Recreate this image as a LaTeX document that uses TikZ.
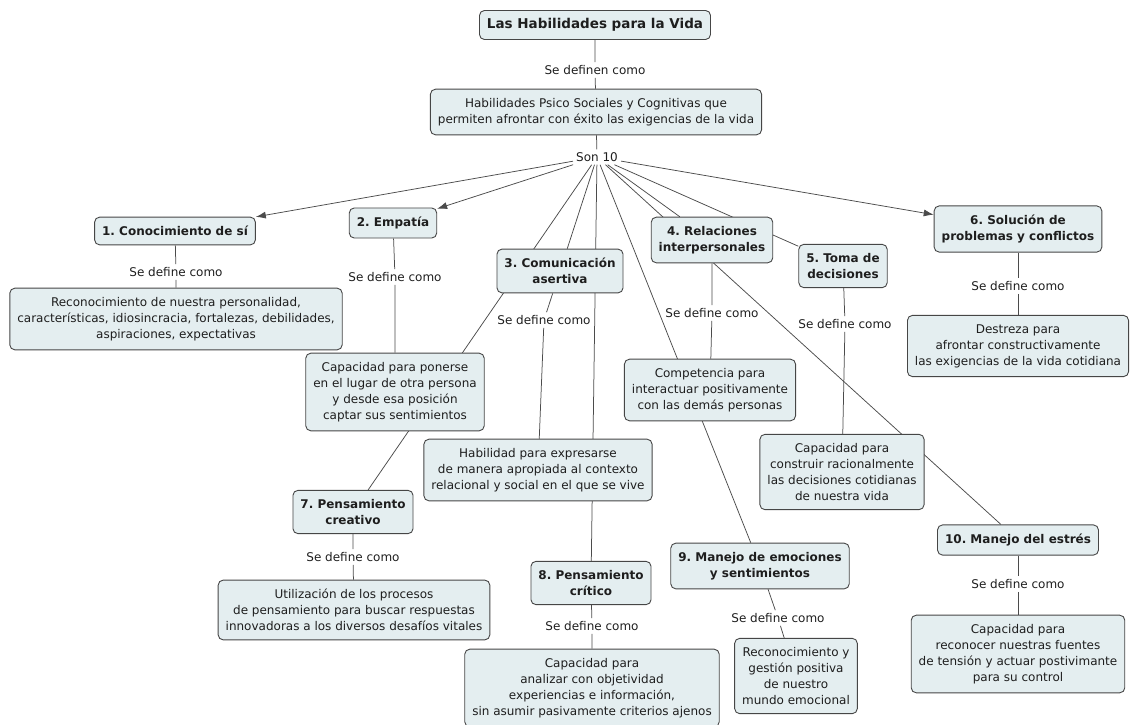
\documentclass[tikz,border=0pt]{standalone}
\usepackage{fontspec}
\setmainfont{DejaVu Sans}
\usetikzlibrary{arrows.meta,backgrounds}
\definecolor{cajafondo}{RGB}{228,238,240}
\definecolor{cajaborde}{RGB}{70,70,70}
\definecolor{linea}{RGB}{75,75,75}
\definecolor{texto}{RGB}{30,30,30}
\frenchspacing

\begin{document}
\begin{tikzpicture}[x=1pt,y=-1pt,
	concepto/.style={draw=cajaborde,fill=cajafondo,rounded corners=5pt,line width=0.9pt,align=center,
		inner xsep=7.5pt,inner ysep=9pt,text=texto,font=\fontsize{12}{16}\selectfont},
	habilidad/.style={concepto,font=\fontsize{12}{16}\selectfont\bfseries},
	enlace/.style={inner sep=3pt,text=texto,font=\fontsize{12}{14}\selectfont},
	union/.style={draw=linea,line width=0.75pt},
	flecha/.style={union,-{Latex[length=10pt,width=7pt]}}]
		\useasboundingbox (0,0) rectangle (1133,725);
		\node[habilidad,inner ysep=8pt,font=\fontsize{13.5}{16}\selectfont\bfseries](titulo) at (595,25) {Las Habilidades para la Vida};
		\node[enlace](sd0) at (595,70) {Se definen como};
		\node[concepto](psico) at (596,112) {Habilidades Psico Sociales y Cognitivas que\\permiten afrontar con éxito las exigencias de la vida};
		\node[enlace](son) at (597,157) {Son 10};
		% las diez habilidades
		\node[habilidad](c1) at (175,231) {1. Conocimiento de sí};
		\node[habilidad](c2) at (393,223) {2. Empatía};
		\node[habilidad](c3) at (560,271) {3. Comunicación\\asertiva};
		\node[habilidad](c4) at (712,240) {4. Relaciones\\interpersonales};
		\node[habilidad](c5) at (843,266) {5. Toma de\\decisiones};
		\node[habilidad](c6) at (1018,229) {6. Solución de\\problemas y conflictos};
		\node[habilidad](c7) at (353,512) {7. Pensamiento\\creativo};
		\node[habilidad](c8) at (591,583) {8. Pensamiento\\crítico};
		\node[habilidad](c9) at (760,566) {9. Manejo de emociones\\y sentimientos};
		\node[habilidad](c10) at (1018,540) {10. Manejo del estrés};
		% enlaces
		\node[enlace](sd1) at (176,272) {Se define como};
		\node[enlace](sd2) at (395,277) {Se define como};
		\node[enlace](sd3) at (544,320) {Se define como};
		\node[enlace](sd4) at (712,313) {Se define como};
		\node[enlace](sd5) at (845,324) {Se define como};
		\node[enlace](sd6) at (1018,286) {Se define como};
		\node[enlace](sd7) at (353,557) {Se define como};
		\node[enlace](sd8) at (592,626) {Se define como};
		\node[enlace](sd9) at (778,618) {Se define como};
		\node[enlace](sd10) at (1018,584) {Se define como};
		% definiciones
		\node[concepto](d1) at (176,319) {Reconocimiento de nuestra personalidad,\\características, idiosincracia, fortalezas, debilidades,\\aspiraciones, expectativas};
		\node[concepto](d2) at (395,392) {Capacidad para ponerse\\en el lugar de otra persona\\y desde esa posición\\captar sus sentimientos};
		\node[concepto](d3) at (538,470) {Habilidad para expresarse\\de manera apropiada al contexto\\relacional y social en el que se vive};
		\node[concepto](d4) at (710,390) {Competencia para\\interactuar positivamente\\con las demás personas};
		\node[concepto](d5) at (842,472) {Capacidad para\\construir racionalmente\\las decisiones cotidianas\\de nuestra vida};
		\node[concepto](d6) at (1018,346) {Destreza para\\afrontar constructivamente\\las exigencias de la vida cotidiana};
		\node[concepto](d7) at (354,610) {Utilización de los procesos\\de pensamiento para buscar respuestas\\innovadoras a los diversos desafíos vitales};
		\node[concepto](d8) at (592,688) {Capacidad para\\analizar con objetividad\\experiencias e información,\\sin asumir pasivamente criterios ajenos};
		\node[concepto](d9) at (796,676) {Reconocimiento y\\gestión positiva\\de nuestro\\mundo emocional};
		\node[concepto](d10) at (1018,654) {Capacidad para\\reconocer nuestras fuentes\\de tensión y actuar postivimante\\para su control};
		\begin{pgfonlayer}{background}
			\draw[union] (titulo)--(sd0) (sd0)--(psico) (psico)--(son);
			\draw[flecha] (son)--(c1);
			\draw[flecha] (son)--(c2);
			\draw[flecha] (son)--(c6);
			\draw[union] (son)--(c3) (son)--(c4) (son)--(c5) (son)--(c7) (son)--(c8) (son)--(c9) (son)--(c10);
			\foreach \i in {1,...,10}
				\draw[union] (c\i)--(sd\i) (sd\i)--(d\i);
		\end{pgfonlayer}
	\end{tikzpicture}
\end{document}
